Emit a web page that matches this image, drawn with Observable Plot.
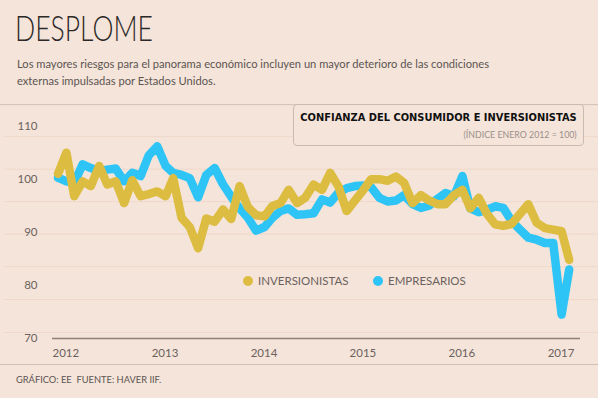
<!DOCTYPE html>
<html><head><meta charset="utf-8">
<script src="https://cdn.jsdelivr.net/npm/d3@7"></script>
<script src="https://cdn.jsdelivr.net/npm/@observablehq/plot@0.6"></script>
<style>
body{margin:0;background:#f5e4d9;}
#c{position:relative;width:598px;height:398px;overflow:hidden;background:#f5e4d9;font-family:Lato,"Open Sans",sans-serif;}
#title{position:absolute;left:15px;top:10.9px;font-size:34.7px;line-height:1;font-weight:300;color:#2b2827;transform:scaleX(0.765);transform-origin:0 0;white-space:nowrap;}
#sub{position:absolute;left:17px;top:54.5px;font-size:11.15px;line-height:17px;color:#5b5452;white-space:nowrap;}
#chart{position:absolute;left:0;top:100px;}
#box{position:absolute;left:293px;top:104px;width:289px;height:40px;border:1px solid #cbbab0;border-radius:4px;background:#f5e4d9;}
.bt{position:absolute;right:21.3px;top:113.4px;font-family:"DejaVu Sans",sans-serif;font-weight:bold;font-size:9.9px;line-height:1;color:#111;white-space:nowrap;}
.bs{position:absolute;right:21.3px;top:131.1px;font-size:8.8px;line-height:1;color:#9a8f8a;white-space:nowrap;}
.lg{position:absolute;top:274.9px;font-size:11.5px;line-height:1;color:#6b625e;white-space:nowrap;}
.dot{position:absolute;width:10px;height:10px;border-radius:5px;}
#cap{position:absolute;left:16px;top:374.5px;font-size:9.3px;line-height:1;color:#5b5452;white-space:nowrap;}
</style></head><body>
<div id="c">
  <div id="title">DESPLOME</div>
  <div id="sub">Los mayores riesgos para el panorama económico incluyen un mayor deterioro de las condiciones<br>externas impulsadas por Estados Unidos.</div>
  <div id="chart"></div>
  <div id="box"></div>
  <div class="bt">CONFIANZA DEL CONSUMIDOR E INVERSIONISTAS</div>
  <div class="bs">(ÍNDICE ENERO 2012 = 100)</div>
  <div class="dot" style="left:242.7px;top:276px;background:#dcbd41"></div>
  <div class="lg" style="left:258px">INVERSIONISTAS</div>
  <div class="dot" style="left:372.7px;top:275.7px;background:#2ec5f6"></div>
  <div class="lg" style="left:388px">EMPRESARIOS</div>
  <div id="cap">GRÁFICO: EE&nbsp; FUENTE: HAVER IIF.</div>
</div>
<script>
// Monthly index values, Jan 2012 – Mar 2017 (Jan 2012 = 100)
const inversionistas = [
  101.0,105.0,96.8,99.6,98.7,102.5,99.0,99.6,95.5,99.8,
  96.8,97.2,97.7,96.8,100.2,92.7,91.0,87.0,92.6,92.0,
  94.3,92.5,98.7,94.8,93.2,93.0,94.9,95.5,98.0,95.5,
  96.5,99.0,98.0,101.2,98.6,94.0,96.0,98.0,100.0,100.0,
  99.7,100.5,99.3,95.5,97.0,96.0,95.3,95.3,97.0,98.0,
  94.5,96.5,93.5,91.5,91.2,91.6,93.5,95.3,91.8,90.8,
  90.5,90.2,84.8
];
const empresarios = [
  100.3,99.6,99.3,102.8,102.1,101.5,101.8,102.0,99.6,101.2,
  100.6,104.5,106.2,102.5,101.2,100.8,100.2,96.6,100.8,102.1,
  99.0,96.7,94.5,92.8,90.3,91.0,92.7,94.0,94.5,93.3,
  93.4,93.6,96.2,95.6,97.5,98.3,98.7,98.8,98.5,96.5,
  95.8,96.0,97.0,95.3,94.6,95.0,96.3,97.4,96.8,100.6,
  94.5,93.8,94.2,94.9,94.6,92.1,90.5,89.0,88.6,88.0,
  88.0,74.5,83.0
];
const months = d3.utcMonth.range(new Date(Date.UTC(2012,0,1)), new Date(Date.UTC(2017,3,1)));
const years = [2012, 2013, 2014, 2015, 2016, 2017];
const yTicks = [70, 80, 90, 100, 110];
const gridLines = [108.03, 101.9, 95.79, 89.67, 83.55, 77.34, 71.13];
const separators = [114.05, 65.1];

const rowsEmp = months.map((d, i) => ({date: d, value: empresarios[i], serie: "EMPRESARIOS"}));
const rowsInv = months.map((d, i) => ({date: d, value: inversionistas[i], serie: "INVERSIONISTAS"}));
const yearDates = years.map(y => new Date(Date.UTC(y, 0, 1)));

const chart = Plot.plot({
  width: 598,
  height: 268,
  marginLeft: 52,
  marginRight: 18,
  marginTop: 25.6,
  marginBottom: 30,
  style: {background: "transparent", fontFamily: "Lato, sans-serif", overflow: "visible"},
  x: {type: "utc", domain: [new Date(Date.UTC(2011,11,11,17)), new Date(Date.UTC(2017,3,11,17))]},
  y: {domain: [70, 110]},
  marks: [
    Plot.ruleY(gridLines, {stroke: "#efd8cb", strokeWidth: 1, insetLeft: -48, insetRight: -18}),
    Plot.ruleY(separators, {stroke: "#d2c0b5", strokeWidth: 1, insetLeft: -52, insetRight: -18}),
    Plot.axisY({ticks: yTicks, tickSize: 0, tickPadding: 15, fontSize: 11.5, color: "#6b625e", label: null}),
    Plot.axisX({ticks: yearDates, tickSize: 0, tickPadding: 10, textAnchor: "start", dx: -5.5, fontSize: 11.5, color: "#6b625e", label: null, tickFormat: d => String(d.getUTCFullYear())}),
    Plot.ruleY([70], {stroke: "#8d817a", strokeWidth: 1.6}),
    Plot.line(rowsEmp, {x: "date", y: "value", stroke: "#2ec5f6", strokeWidth: 8.5, strokeLinejoin: "round", strokeLinecap: "round"}),
    Plot.line(rowsInv, {x: "date", y: "value", stroke: "#dcbd41", strokeWidth: 8.5, strokeLinejoin: "round", strokeLinecap: "round"})
  ]
});
document.getElementById("chart").appendChild(chart);
</script>
</body></html>
